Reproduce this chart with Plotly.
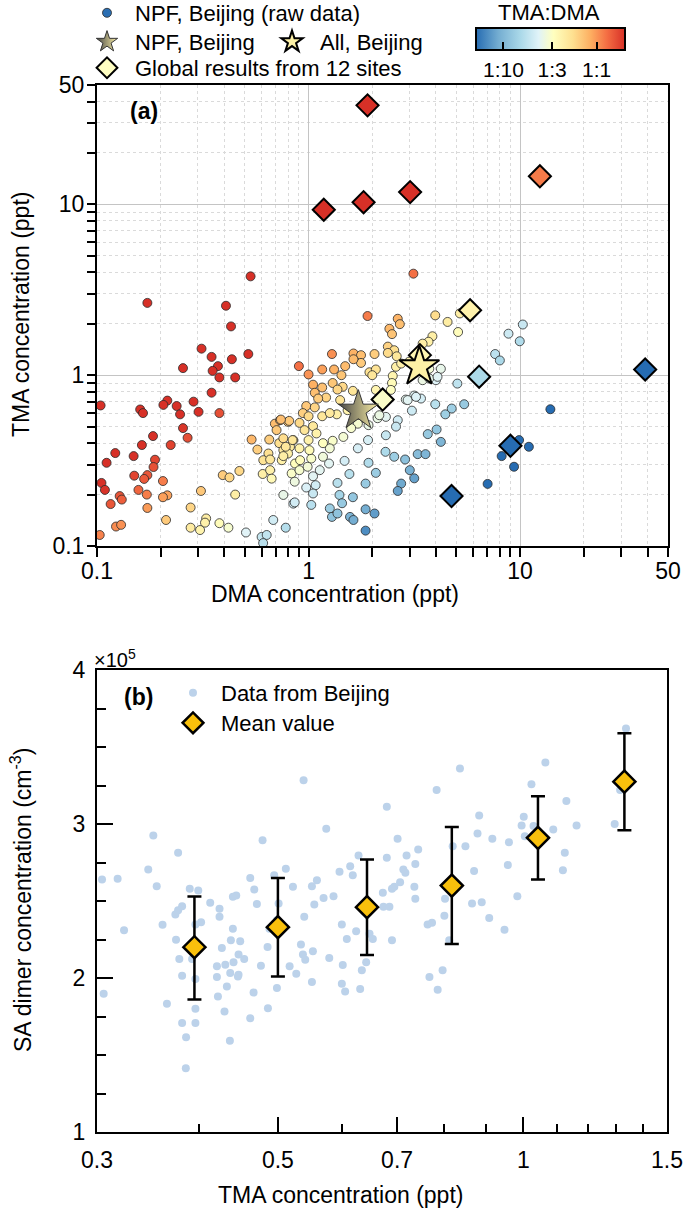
import numpy as np
import plotly.graph_objects as go

W, H = 685, 1222
FONT = "Liberation Sans, Arial, sans-serif"

# ---------------- Panel (a) data ----------------
dma_raw = [0.173, 0.407, 0.43, 0.312, 0.348, 0.434, 0.519, 0.255, 0.373, 0.352, 0.379, 0.45, 0.348, 0.286,
           0.302, 0.379, 0.215, 0.206, 0.238, 0.247, 0.16, 0.165, 0.104, 0.255, 0.268, 0.184, 0.163, 0.223,
           0.122, 0.149, 0.111, 0.188, 0.185, 0.173, 0.15, 0.167, 0.105, 0.109, 0.205, 0.157, 0.172, 0.215,
           0.205, 0.128, 0.131, 0.116, 0.173, 0.31, 0.212, 0.123, 0.13, 0.103, 0.277, 0.393, 0.423, 0.471,
           0.45, 0.328, 0.324, 0.277, 0.307, 0.379, 0.418, 0.506, 0.60, 0.634, 0.681, 0.78, 0.76, 0.847,
           0.538, 0.573, 0.652, 0.693, 0.733, 0.80, 0.706, 0.607, 0.658, 0.669, 0.646, 0.611, 0.658, 0.727,
           0.76, 0.817, 0.747, 0.80, 0.847, 0.863, 0.832, 0.61, 0.532,
           1.90, 3.97, 4.54, 5.09, 2.64, 2.70, 2.41, 2.48, 3.85, 3.69, 3.46, 2.37, 2.54, 2.37, 2.61, 1.29,
           1.63, 1.77, 2.05, 1.77, 1.63, 1.49, 1.32, 1.16, 0.90, 1.00, 1.43, 1.30, 1.45, 1.37, 1.05, 1.16,
           1.07, 1.21, 1.11, 0.975, 1.07, 0.81, 0.74, 0.94, 1.00, 0.906, 1.05, 1.16, 1.36, 1.41, 1.62, 1.94,
           2.08, 2.0, 2.50, 2.48, 2.45, 2.08, 2.12, 2.59, 2.74, 2.99, 3.72, 4.22, 4.0, 3.46, 2.88, 3.16,
           3.40, 3.08, 1.80, 1.71, 1.59, 1.92, 2.12, 2.32, 2.64, 2.59, 2.32, 1.91, 1.71, 1.46, 1.30, 1.26,
           1.17, 1.48, 1.25, 1.13, 1.05, 0.906, 0.912, 1.03, 0.99, 0.86, 0.975, 1.08, 1.05, 1.03, 0.86,
           1.37, 1.56, 1.86, 1.92, 2.08, 2.31, 2.54, 2.86, 3.01, 3.16, 2.74, 2.64, 3.28, 3.57, 3.66, 4.03,
           4.22, 3.97, 4.43, 4.75, 5.44, 5.05, 1.40, 1.44, 1.62, 1.26, 1.29, 1.37, 1.57, 1.63, 1.86, 2.05,
           1.86, 0.76, 0.84, 0.78, 0.906, 1.0, 1.01, 1.09, 1.17, 0.957, 0.76, 1.53, 1.26, 1.77, 2.16, 2.94,
           3.22, 3.72, 4.07,
           8.81, 10.3, 9.96, 7.62, 8.02, 13.9, 9.89, 11.0, 8.18, 9.36, 7.02, 5.19, 3.13]
tma_raw = [2.65, 2.55, 1.93, 1.43, 1.28, 1.24, 1.33, 1.10, 1.13, 1.06, 0.97, 0.97, 0.79, 0.70,
           0.61, 0.60, 0.71, 0.67, 0.66, 0.59, 0.63, 0.60, 0.665, 0.49, 0.43, 0.44, 0.39, 0.39,
           0.35, 0.336, 0.307, 0.32, 0.29, 0.26, 0.258, 0.247, 0.234, 0.213, 0.24, 0.213, 0.20, 0.198,
           0.193, 0.196, 0.187, 0.176, 0.167, 0.21, 0.142, 0.13, 0.133, 0.116, 0.168, 0.26, 0.252, 0.275,
           0.20, 0.145, 0.137, 0.128, 0.124, 0.136, 0.128, 0.12, 0.113, 0.116, 0.142, 0.128, 0.199, 0.177,
           0.42, 0.367, 0.42, 0.52, 0.545, 0.533, 0.477, 0.264, 0.278, 0.248, 0.348, 0.318, 0.321, 0.40,
           0.364, 0.381, 0.318, 0.348, 0.417, 0.304, 0.266, 0.104, 3.79,
           2.22, 2.24, 2.05, 1.79, 2.14, 1.99, 1.87, 1.74, 1.69, 1.57, 1.53, 1.47, 1.40, 1.35, 1.29, 1.33,
           1.34, 1.31, 1.33, 1.18, 1.24, 1.13, 1.08, 1.08, 1.13, 1.01, 1.00, 0.90, 0.855, 0.824, 0.88, 0.847,
           0.789, 0.74, 0.73, 0.66, 0.648, 0.54, 0.55, 0.60, 0.575, 0.526, 0.503, 0.575, 0.59, 0.715, 0.81, 1.04,
           1.08, 1.0, 0.99, 0.90, 0.82, 0.82, 0.715, 1.12, 1.17, 1.20, 1.09, 1.09, 0.935, 0.935, 0.72, 0.76,
           0.73, 0.62, 0.56, 0.52, 0.49, 0.51, 0.56, 0.57, 0.545, 0.50, 0.445, 0.417, 0.373, 0.435, 0.413, 0.373,
           0.333, 0.315, 0.304, 0.278, 0.256, 0.278, 0.318, 0.325, 0.291, 0.238, 0.22, 0.227, 0.203, 0.174, 0.18,
           0.234, 0.264, 0.232, 0.307, 0.268, 0.356, 0.333, 0.321, 0.278, 0.249, 0.232, 0.21, 0.345, 0.345, 0.452, 0.481,
           0.407, 0.676, 0.59, 0.638, 0.676, 0.893, 0.199, 0.178, 0.193, 0.166, 0.148, 0.155, 0.148, 0.142, 0.164, 0.155,
           0.123, 0.427, 0.417, 0.381, 0.373, 0.417, 0.364, 0.456, 0.40, 0.477, 0.336, 0.624, 0.60, 0.60, 0.583, 0.715,
           0.747, 0.957, 0.978,
           1.75, 1.98, 1.58, 1.33, 1.22, 0.632, 0.417, 0.381, 0.336, 0.291, 0.231, 2.30, 3.93]

site_dma = [1.90, 1.18, 1.82, 3.02, 12.4, 5.8, 6.4, 39.0, 9.0, 4.74, 2.24, 3.36]
site_tma = [38.0, 9.3, 10.3, 11.8, 14.6, 2.4, 0.98, 1.08, 0.386, 0.196, 0.72, 1.31]

npf_dma, npf_tma = [1.72], [0.62]
all_dma, all_tma = [3.34], [1.12]

ratio_tick_vals = [0.1, 1 / 3, 1.0]
ratio_tick_text = ["1:10", "1:3", "1:1"]
x_a_ticks = [0.1, 1, 10, 50]
x_a_ticklabels = ["0.1", "1", "10", "50"]
y_a_ticks = [0.1, 1, 10, 50]
y_a_ticklabels = ["0.1", "1", "10", "50"]

# ---------------- Panel (b) data ----------------
b_tma = [0.3043, 0.318, 0.3057, 0.3238, 0.3467, 0.3517, 0.3551, 0.361, 0.3655, 0.3772, 0.3743, 0.3772,
         0.3815, 0.375, 0.3898, 0.3993, 0.4025, 0.3961, 0.3785, 0.3924, 0.3815, 0.3961, 0.3961, 0.3815,
         0.3961, 0.3858, 0.3855, 0.413, 0.424, 0.424, 0.4268, 0.4403, 0.4445, 0.4403, 0.4378, 0.4495,
         0.4474, 0.4546, 0.4209, 0.431, 0.4411, 0.437, 0.4474, 0.4466, 0.4209, 0.4329, 0.4221, 0.43,
         0.4366, 0.4624, 0.4677, 0.4712, 0.4788, 0.4766, 0.4668, 0.4624, 0.4861, 0.4856, 0.4883, 0.4948,
         0.501, 0.4986, 0.4986, 0.5113, 0.5217, 0.5168, 0.5266, 0.5336, 0.5376, 0.5386, 0.5366, 0.5401,
         0.5504, 0.5519, 0.5504, 0.5582, 0.5541, 0.5688, 0.5731, 0.578, 0.585, 0.595, 0.5989, 0.6005,
         0.5989, 0.6045, 0.6074, 0.6132, 0.6177, 0.6236, 0.6278, 0.6307, 0.6337, 0.6415, 0.6476, 0.6537,
         0.6724, 0.6736, 0.68, 0.68,
         0.685, 0.690, 0.701, 0.719, 0.7125, 0.7166, 0.737, 0.743, 0.735, 0.737, 0.706, 0.6946, 0.69,
         0.763, 0.7726, 0.767, 0.796, 0.785, 0.7827, 0.80, 0.8015, 0.811, 0.819, 0.836, 0.849, 0.865,
         0.870, 0.8785, 0.8826, 0.889, 0.908, 0.916, 0.948, 0.957, 0.96, 0.983, 0.995, 1.001, 1.004,
         1.023, 1.029, 1.064, 1.088, 1.118, 1.124, 1.129, 1.162, 1.294, 1.314, 1.336]
b_sa = [2.64, 2.644, 1.898, 2.31, 2.705, 2.926, 2.596, 2.345, 1.833, 2.813, 2.412, 2.44,
        2.466, 2.249, 2.579, 2.568, 2.362, 2.347, 2.123, 2.123, 2.015, 1.993, 1.80, 1.707,
        1.707, 1.616, 1.414, 2.488, 2.449, 2.397, 2.195, 2.527, 2.535, 2.319, 2.245, 2.238,
        2.152, 2.123, 2.076, 2.086, 2.102, 2.032, 2.021, 2.01, 2.006, 1.945, 1.88, 1.783,
        1.592, 2.65, 2.574, 2.481, 2.895, 2.08, 1.906, 1.739, 1.804, 2.201, 2.319, 2.668,
        2.483, 2.375, 1.935, 2.709, 2.592, 2.076, 2.028, 2.217, 3.284, 2.397, 2.152, 2.119,
        1.974, 2.173, 2.596, 2.635, 2.477, 2.52, 2.969, 2.13, 2.531, 2.69, 2.347, 2.084,
        1.963, 1.913, 2.253, 2.726, 2.668, 2.303, 2.796, 1.928, 2.05, 2.102, 2.288, 2.253,
        2.553, 2.462, 2.781, 3.112,
        2.462, 2.245, 2.904, 2.796, 2.705, 2.683, 2.741, 2.835, 2.592, 2.514, 2.622, 2.592, 2.579,
        2.347, 2.358, 2.006, 2.05, 1.924, 3.221, 2.405, 2.514, 2.245, 2.856, 3.36, 2.856, 2.483,
        2.694, 2.939, 3.056, 2.492, 2.39, 2.904, 2.314, 2.733, 2.882, 2.531, 2.991, 3.047, 2.921,
        3.258, 2.987, 3.399, 2.965, 2.70, 2.813, 3.149, 2.991, 3.0, 3.221, 3.62]

mean_tma = [0.395, 0.50, 0.643, 0.817, 1.042, 1.33]
mean_sa = [2.20, 2.33, 2.46, 2.60, 2.91, 3.275]
sa_upper = [2.53, 2.65, 2.77, 2.98, 3.18, 3.59]
sa_lower = [1.86, 2.01, 2.15, 2.22, 2.64, 2.96]

x_b_ticks = [0.3, 0.5, 0.7, 1, 1.5]
x_b_ticklabels = ["0.3", "0.5", "0.7", "1", "1.5"]
x_b_minor = [0.4, 0.6, 0.8, 0.9, 1.1, 1.2, 1.3, 1.4]
y_b_ticks = [1, 2, 3, 4]


def fx(px):
    return px / W


def fy(py):
    return 1 - py / H


colorscale = [
    [0.0, "rgb(38,108,178)"],
    [0.15, "rgb(116,173,209)"],
    [0.30, "rgb(171,217,233)"],
    [0.42, "rgb(224,243,248)"],
    [0.52, "rgb(255,255,191)"],
    [0.65, "rgb(254,224,144)"],
    [0.77, "rgb(253,174,97)"],
    [0.88, "rgb(244,109,67)"],
    [1.0, "rgb(215,48,39)"],
]

raw_ratio = np.log10(np.array(tma_raw) / np.array(dma_raw))
site_ratio = np.log10(np.array(site_tma) / np.array(site_dma))

fig = go.Figure()

fig.add_trace(go.Scatter(
    x=dma_raw, y=tma_raw, mode="markers", name="NPF, Beijing (raw data)", showlegend=False,
    marker=dict(size=9, color=raw_ratio, coloraxis="coloraxis",
                line=dict(color="#2a2a2a", width=0.8)),
    xaxis="x", yaxis="y"))

fig.add_trace(go.Scatter(
    x=site_dma, y=site_tma, mode="markers", name="Global results from 12 sites", showlegend=False,
    marker=dict(symbol="diamond", size=17, color=site_ratio, coloraxis="coloraxis",
                line=dict(color="black", width=2)),
    xaxis="x", yaxis="y"))

fig.add_trace(go.Scatter(
    x=npf_dma, y=npf_tma, mode="markers", name="NPF, Beijing",
    marker=dict(symbol="star", size=30, color="#454545",
                gradient=dict(type="horizontal", color="#fdf1a6"),
                line=dict(color="#333333", width=1)),
    xaxis="x", yaxis="y", legend="legend2"))

fig.add_trace(go.Scatter(
    x=all_dma, y=all_tma, mode="markers", name="All, Beijing",
    marker=dict(symbol="star", size=30, color="#fdf1a6",
                line=dict(color="black", width=2)),
    xaxis="x", yaxis="y", legend="legend3"))

# legend keys for the colour-mapped series (no data of their own)
fig.add_trace(go.Scatter(
    x=[None], y=[None], mode="markers", name="NPF, Beijing (raw data)",
    marker=dict(size=9, color="#2b6fb3", line=dict(color="#2a2a2a", width=0.8)),
    xaxis="x", yaxis="y", legend="legend"))
fig.add_trace(go.Scatter(
    x=[None], y=[None], mode="markers", name="Global results from 12 sites",
    marker=dict(symbol="diamond", size=16, color="#fffec2", line=dict(color="black", width=2)),
    xaxis="x", yaxis="y", legend="legend4"))

fig.add_trace(go.Scatter(
    x=b_tma, y=b_sa, mode="markers", name="Data from Beijing",
    marker=dict(size=8, color="#bcd2ea"),
    xaxis="x2", yaxis="y2", legend="legend5"))

fig.add_trace(go.Scatter(
    x=mean_tma, y=mean_sa, mode="markers", name="Mean value",
    marker=dict(symbol="diamond", size=17, color="#f9c00c",
                line=dict(color="black", width=2.5)),
    error_y=dict(type="data", symmetric=False,
                 array=(np.array(sa_upper) - np.array(mean_sa)).tolist(),
                 arrayminus=(np.array(mean_sa) - np.array(sa_lower)).tolist(),
                 color="black", thickness=2.5, width=7),
    xaxis="x2", yaxis="y2", legend="legend6"))

TICK = 23
axis_common = dict(showline=True, linecolor="black", linewidth=2, mirror=True,
                   zeroline=False, tickfont=dict(size=TICK, family=FONT, color="black"),
                   tickcolor="black")

a_minor = [0.2, 0.3, 0.4, 0.5, 0.6, 0.7, 0.8, 0.9, 2, 3, 4, 5, 6, 7, 8, 9, 20, 30, 40]

fig.update_layout(
    width=W, height=H,
    margin=dict(l=0, r=0, t=0, b=0, autoexpand=False),
    paper_bgcolor="white", plot_bgcolor="white",
    font=dict(family=FONT, color="black"),
    showlegend=True,
    xaxis=dict(type="log", range=[-1, np.log10(50)], domain=[fx(97), fx(668)], anchor="y",
               tickvals=x_a_ticks, ticktext=x_a_ticklabels, ticks="outside", ticklen=9, tickwidth=1.5,
               ticklabelstandoff=-6,
               showgrid=True, gridcolor="#c4c4c4", gridwidth=1,
               minor=dict(tickvals=a_minor, ticks="outside", ticklen=9, tickwidth=1.5, tickcolor="black",
                          showgrid=True, gridcolor="#dadada", griddash="dot", gridwidth=1),
               **axis_common),
    yaxis=dict(type="log", range=[-1, np.log10(50)], domain=[fy(546), fy(85)], anchor="x",
               tickvals=y_a_ticks, ticktext=y_a_ticklabels, ticks="outside", ticklen=8, tickwidth=1.5,
               ticklabelstandoff=-2,
               showgrid=True, gridcolor="#c4c4c4", gridwidth=1,
               minor=dict(tickvals=a_minor, ticks="outside", ticklen=8, tickwidth=1.5, tickcolor="black",
                          showgrid=True, gridcolor="#dadada", griddash="dot", gridwidth=1),
               **axis_common),
    xaxis2=dict(type="log", range=[np.log10(0.3), np.log10(1.5)], domain=[fx(97), fx(667)], anchor="y2",
                tickvals=x_b_ticks, ticktext=x_b_ticklabels, ticks="inside", ticklen=15, tickwidth=1.5,
                ticklabelstandoff=6, showgrid=False,
                minor=dict(tickvals=x_b_minor, ticks="inside", ticklen=8, tickwidth=1.5, tickcolor="black"),
                **axis_common),
    yaxis2=dict(range=[1, 4], domain=[fy(1132), fy(670)], anchor="x2",
                tickvals=y_b_ticks, ticks="inside", ticklen=16, tickwidth=1.5, showgrid=False,
                ticklabelstandoff=5,
                minor=dict(dtick=0.25, ticks="inside", ticklen=9, tickwidth=1.5, tickcolor="black"),
                **axis_common),
    coloraxis=dict(
        colorscale=colorscale, cmin=-1.3, cmax=0.3,
        colorbar=dict(orientation="h", x=fx(550), xanchor="center", y=fy(28), yanchor="top",
                      len=149, lenmode="pixels", thickness=22, thicknessmode="pixels",
                      outlinewidth=2, outlinecolor="black", xpad=0, ypad=0,
                      tickvals=np.log10(ratio_tick_vals).tolist(), ticktext=ratio_tick_text,
                      ticks="inside", ticklen=9, tickwidth=2, tickcolor="black",
                      tickfont=dict(size=21, family=FONT, color="black")),
    ),
)

leg_font = dict(size=22, family=FONT, color="black")
leg_common = dict(bgcolor="rgba(0,0,0,0)", borderwidth=0, font=leg_font, itemwidth=46,
                  xanchor="left", yanchor="middle", itemsizing="trace")
fig.update_layout(
    legend=dict(x=fx(79), y=fy(13), **leg_common),
    legend2=dict(x=fx(79), y=fy(42), **leg_common),
    legend3=dict(x=fx(264), y=fy(42), **leg_common),
    legend4=dict(x=fx(79), y=fy(68), **leg_common),
    legend5=dict(x=fx(165), y=fy(693), **leg_common),
    legend6=dict(x=fx(165), y=fy(723), **leg_common),
)

annos = [
    dict(text="<b>(a)</b>", x=fx(144), y=fy(111), font=dict(size=23)),
    dict(text="<b>(b)</b>", x=fx(138), y=fy(697), font=dict(size=23)),
    dict(text="TMA concentration (ppt)", x=fx(21), y=fy(315), textangle=-90, font=dict(size=23)),
    dict(text="DMA concentration (ppt)", x=fx(335), y=fy(594), font=dict(size=23)),
    dict(text="SA dimer concentration (cm<sup>-3</sup>)", x=fx(21), y=fy(900), textangle=-90,
         font=dict(size=23)),
    dict(text="TMA concentration (ppt)", x=fx(340), y=fy(1195), font=dict(size=23)),
    dict(text="×10<sup>5</sup>", x=fx(115), y=fy(658), font=dict(size=20)),
    dict(text="TMA:DMA", x=fx(549), y=fy(13), font=dict(size=22)),
]
for a in annos:
    a.update(xref="paper", yref="paper", showarrow=False, xanchor="center", yanchor="middle")
    a["font"].update(family=FONT, color="black")
fig.update_layout(annotations=annos)

# the page's default 8 px body margin is removed so the 685x1222 figure fills the window exactly
fig.write_html("out.html", config={"displayModeBar": False},
               post_script="document.body.style.margin='0px';")
